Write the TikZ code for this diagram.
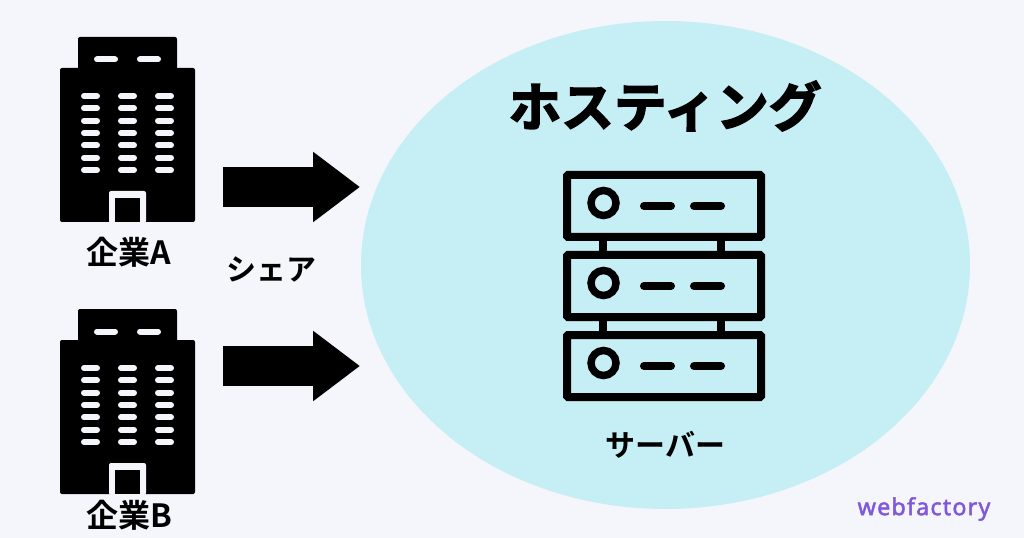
\documentclass[tikz,border=0pt]{standalone}
\usepackage{fontspec}
\usepackage{tikz}
\usetikzlibrary{arrows.meta,shapes.geometric}
\newfontfamily\cjk{Noto Sans CJK JP}[BoldFont={Noto Sans CJK JP Bold}]
\newfontfamily\cjkheavy{Noto Sans CJK JP Bold}[FakeBold=3]
\newfontfamily\logofont{Noto Sans}[FakeBold=2, LetterSpace=5]
\definecolor{pagebg}{HTML}{F5F6FC}
\definecolor{cloudbg}{HTML}{C6EEF5}
\definecolor{logopurple}{HTML}{8058DA}
\tikzset{
	bigarrow/.style={draw=black, line width=30.5pt, -{Triangle[width=50.5pt, length=35.25pt]}},
	label/.style={font=\cjk\bfseries\fontsize{24pt}{26pt}\selectfont, text=black, inner sep=0pt},
	rack/.style={draw=black, line width=6pt, rounded corners=0.8pt},
	lamp/.style={draw=pagebg, line width=4.5pt, line cap=round},
	led/.style={draw=black, line width=6pt, line cap=round}
}
\begin{document}
\begin{tikzpicture}[x=0.75pt, y=-0.75pt]
	\useasboundingbox (0,0) rectangle (1024,538);
	\fill[pagebg] (0,0) rectangle (1024,538);
	\node[ellipse, fill=cloudbg, inner sep=0pt, minimum width=456.75pt, minimum height=366pt] (hosting) at (665.5,265) {};
	% buildings
	\foreach \dy/\name/\labely in {0/A/252, 272/B/515}
	{
		\fill[black, rounded corners=1.5pt] (78,37+\dy) rectangle (177,80+\dy);
		\fill[black, rounded corners=1.5pt] (60,68+\dy) rectangle (195,222+\dy);
		\foreach \x in {97,140}
			\draw[lamp] (\x,59.5+\dy) -- (\x+18,59.5+\dy);
		\foreach \x in {84,121,158}
			\foreach \y in {96,108.4,120.7,133,145.3,157.7,170}
				\draw[lamp] (\x,\y+\dy) -- (\x+13,\y+\dy);
		\fill[pagebg, rounded corners=1.5pt] (109,191+\dy) -- (146,191+\dy) -- (146,223+\dy) -- (109,223+\dy) -- cycle;
		\fill[black] (115,198+\dy) rectangle (140,222+\dy);
		\node[label] (firm\name) at (129,\labely) {企業\name};
	}
	% arrows
	\coordinate (startA) at (223,187);
	\coordinate (endA) at (360,187);
	\coordinate (startB) at (223,366);
	\coordinate (endB) at (360,366);
	\draw[bigarrow] (startA) -- (endA);
	\draw[bigarrow] (startB) -- (endB);
	\node[label, font=\cjk\bfseries\fontsize{22.5pt}{24pt}\selectfont] (share) at (271,269) {シェア};
	\node[inner sep=0pt, font=\cjkheavy\fontsize{39.5pt}{42pt}\selectfont] (title) at (665,106) {ホスティング};
	% server
	\foreach \y in {245,325}
	{
		\draw[black, line width=6pt] (603,\y-6) -- (603,\y+8);
		\draw[black, line width=6pt] (721,\y-6) -- (721,\y+8);
	}
	\foreach \y in {175,255,335}
	{
		\draw[rack] (567,\y) rectangle (761,\y+62);
		\draw[black, line width=5.6pt] (603.5,\y+28) circle (12.5);
		\draw[led] (644,\y+31) -- (671,\y+31);
		\draw[led] (694,\y+31) -- (721,\y+31);
	}
	\node[label, font=\cjk\bfseries\fontsize{22.5pt}{24pt}\selectfont] (server) at (665.5,445) {サーバー};
	\node[inner sep=0pt, text=logopurple, font=\logofont\fontsize{17.5pt}{20pt}\selectfont] (logo) at (924,509) {webfactory};
\end{tikzpicture}
\end{document}
